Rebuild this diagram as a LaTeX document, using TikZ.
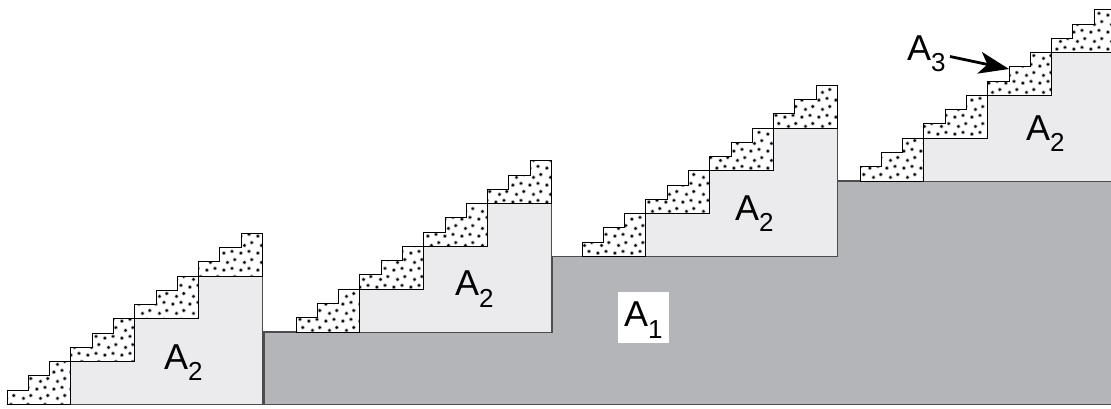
\documentclass[tikz,border=0pt]{standalone}
\usepackage{fontspec}
\setmainfont{Liberation Sans}
\usetikzlibrary{patterns.meta,arrows.meta}
\definecolor{aone}{HTML}{B4B5B9}
\definecolor{atwo}{HTML}{EBEBED}
\definecolor{edgegray}{HTML}{4C4C4C}
\tikzdeclarepattern{
  name=speckle,
  type=colored,
  bounding box={(0pt,0pt) and (17pt,17pt)},
  tile size={(17pt,17pt)},
  code={
    \fill[black!35] (3pt,3pt) circle (2.1pt);
    \fill[black] (3pt,3pt) circle (1.35pt);
    \fill[black!35] (11.5pt,4.8pt) circle (2.1pt);
    \fill[black] (11.5pt,4.8pt) circle (1.35pt);
    \fill[black!35] (6.8pt,11pt) circle (2.1pt);
    \fill[black] (6.8pt,11pt) circle (1.35pt);
    \fill[black!35] (14.4pt,14pt) circle (2.1pt);
    \fill[black] (14.4pt,14pt) circle (1.35pt);
  }
}
\newcommand{\arealabel}[2]{\fontsize{36}{36}\selectfont #1\raisebox{-11.5pt}{\fontsize{26}{26}\selectfont #2}}
\def\stW{63.875}
\def\stH{42.8}
\def\miW{21.2917}
\def\miH{14.2667}
\tikzset{
  aonefill/.style={fill=aone, draw=edgegray, line width=1.3pt},
  atwofill/.style={fill=atwo, draw=edgegray, line width=1pt},
  athree/.style={preaction={fill=white}, pattern=speckle, draw=black, line width=1pt},
  lbl/.style={anchor=base west, inner sep=0pt},
  pointer/.style={line width=2.8pt, -{Stealth[length=30pt,width=22pt,inset=8pt]}}
}
\begin{document}
\begin{tikzpicture}[x=1pt,y=-1pt]
\useasboundingbox (0,0) rectangle (1111,408);
\clip (0,0) rectangle (1111,408);
% A1 large staircase
\path[aonefill] (264,404.5) -- (264,332) -- (552,332) -- (552,256.5) -- (837.5,256.5) -- (837.5,181) -- (1120,181) -- (1120,404.5) -- cycle;
% A2 staircases with A3 groups
\foreach \bx/\by in {7/404.5, 296/332, 582/256.5, 860/181}{
  \path[atwofill] (\bx+\stW,\by) -- ++(0,-\stH) -- ++(\stW,0) -- ++(0,-\stH) -- ++(\stW,0) -- ++(0,-\stH) -- ++(\stW,0) -- (\bx+4*\stW,\by) -- cycle;
  \foreach \k in {0,1,2,3}{
    \path[athree] (\bx+\k*\stW,\by-\k*\stH) -- ++(0,-\miH) -- ++(\miW,0) -- ++(0,-\miH) -- ++(\miW,0) -- ++(0,-\miH) -- ++(\miW,0) -- ++(0,3*\miH) -- cycle;
  }
}
% labels
\node[lbl] (a2a) at (164,369) {\arealabel{A}{2}};
\node[lbl] (a2b) at (455,295.5) {\arealabel{A}{2}};
\node[lbl] (a2c) at (735,220) {\arealabel{A}{2}};
\node[lbl] (a2d) at (1026,140) {\arealabel{A}{2}};
\node[fill=white, minimum width=51pt, minimum height=51pt, inner sep=0pt] (a1box) at (643.5,317.5) {};
\node[lbl] (a1) at (624,326.7) {\arealabel{A}{1}};
\node[lbl] (a3) at (907,60) {\arealabel{A}{3}};
\coordinate (a3tail) at (950,56.5);
\coordinate (a3tip) at (1009,69);
\draw[pointer] (a3tail) -- (a3tip);
\end{tikzpicture}
\end{document}
